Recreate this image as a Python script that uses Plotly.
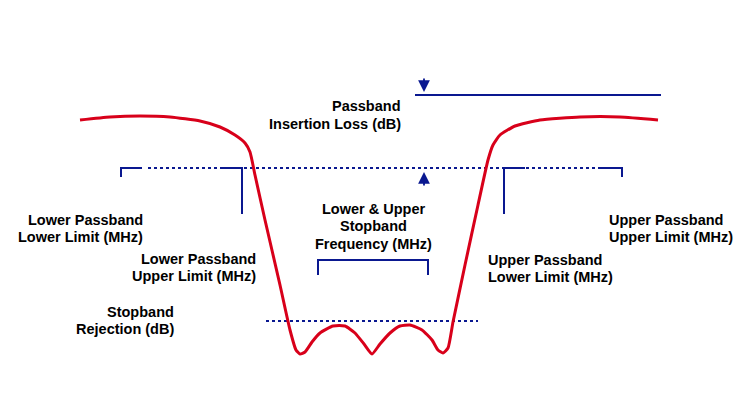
import plotly.graph_objects as go

# Filter response curve (diagram units: x to the right, y downward)
curve_x = [80, 110, 140, 170, 200, 220, 235, 245, 250, 255, 265, 280, 290, 296, 300, 305, 312, 320, 333, 345, 355, 364, 372,
           380, 390, 400, 410, 422, 432, 438, 443, 448, 453, 465, 478, 488, 493, 500, 515, 540, 580, 620, 658]
curve_y = [120, 117, 116, 117, 121, 127, 135, 143, 152, 175, 220, 285, 330, 350, 354, 352, 342, 333, 326, 326, 333, 344, 354,
           344, 333, 326, 325, 330, 340, 350, 353, 348, 322, 265, 205, 160, 145, 135, 126, 120, 117, 117, 120]

# Blue reference lines
il_line_x = [415, 661]
il_line_y = [95, 95]
pb_dot_x = [148, 600]
pb_dot_y = [168, 168]
sb_dot_x = [266, 478]
sb_dot_y = [321, 321]

brackets = [
    ([121, 121, 142], [177, 168, 168]),
    ([222, 242, 242], [168, 168, 214]),
    ([525, 504, 504], [168, 168, 214]),
    ([600, 622, 622], [168, 168, 177]),
    ([318, 318, 428, 428], [275, 260, 260, 275]),
]

labels = [
    (["Passband", "Insertion Loss (dB)"], 403, [106, 124], "right"),
    (["Lower Passband", "Lower Limit (MHz)"], 145, [220, 237], "right"),
    (["Lower Passband", "Upper Limit (MHz)"], 258, [259, 276], "right"),
    (["Stopband", "Rejection (dB)"], 176, [312, 329], "right"),
    (["Lower & Upper", "Stopband", "Frequency (MHz)"], 373, [209, 226, 244], "center"),
    (["Upper Passband", "Lower Limit (MHz)"], 486, [260, 277], "left"),
    (["Upper Passband", "Upper Limit (MHz)"], 607, [220, 237], "left"),
]

arrows = [
    (424, 77, 424, 92),
    (424, 187, 424, 172),
]

RED = "#d8001a"
BLUE = "#0a1890"
OFF = 8  # page body margin compensation

fig = go.Figure()
fig.add_trace(go.Scatter(x=il_line_x, y=il_line_y, mode="lines", line=dict(color=BLUE, width=2), hoverinfo="skip"))
fig.add_trace(go.Scatter(x=pb_dot_x, y=pb_dot_y, mode="lines", line=dict(color=BLUE, width=2, dash="dot"), hoverinfo="skip"))
fig.add_trace(go.Scatter(x=sb_dot_x, y=sb_dot_y, mode="lines", line=dict(color=BLUE, width=2.2, dash="dot"), hoverinfo="skip"))
for bx, by in brackets:
    fig.add_trace(go.Scatter(x=bx, y=by, mode="lines", line=dict(color=BLUE, width=2), hoverinfo="skip"))
fig.add_trace(go.Scatter(x=curve_x, y=curve_y, mode="lines", line=dict(color=RED, width=3, shape="spline", smoothing=0.5),
                         hoverinfo="skip"))

for lines, x, ys, align in labels:
    for t, yy in zip(lines, ys):
        fig.add_annotation(x=x, y=yy, text="<b>%s</b>" % t, showarrow=False, xanchor=align, yanchor="middle",
                           font=dict(family="Liberation Sans, Arial, sans-serif", size=14.5, color="#000000"))

for tx, ty, hx, hy in arrows:
    fig.add_annotation(x=hx, y=hy, ax=tx, ay=ty, xref="x", yref="y", axref="x", ayref="y", text="",
                       showarrow=True, arrowhead=2, arrowsize=1.3, arrowwidth=1.8, arrowcolor=BLUE)

fig.update_layout(
    width=750, height=400, margin=dict(l=0, r=0, t=0, b=0),
    paper_bgcolor="white", plot_bgcolor="white", showlegend=False,
    xaxis=dict(range=[OFF, 750 + OFF], visible=False, fixedrange=True),
    yaxis=dict(range=[400 + OFF, OFF], visible=False, fixedrange=True),
)
fig.write_html("out.html")
